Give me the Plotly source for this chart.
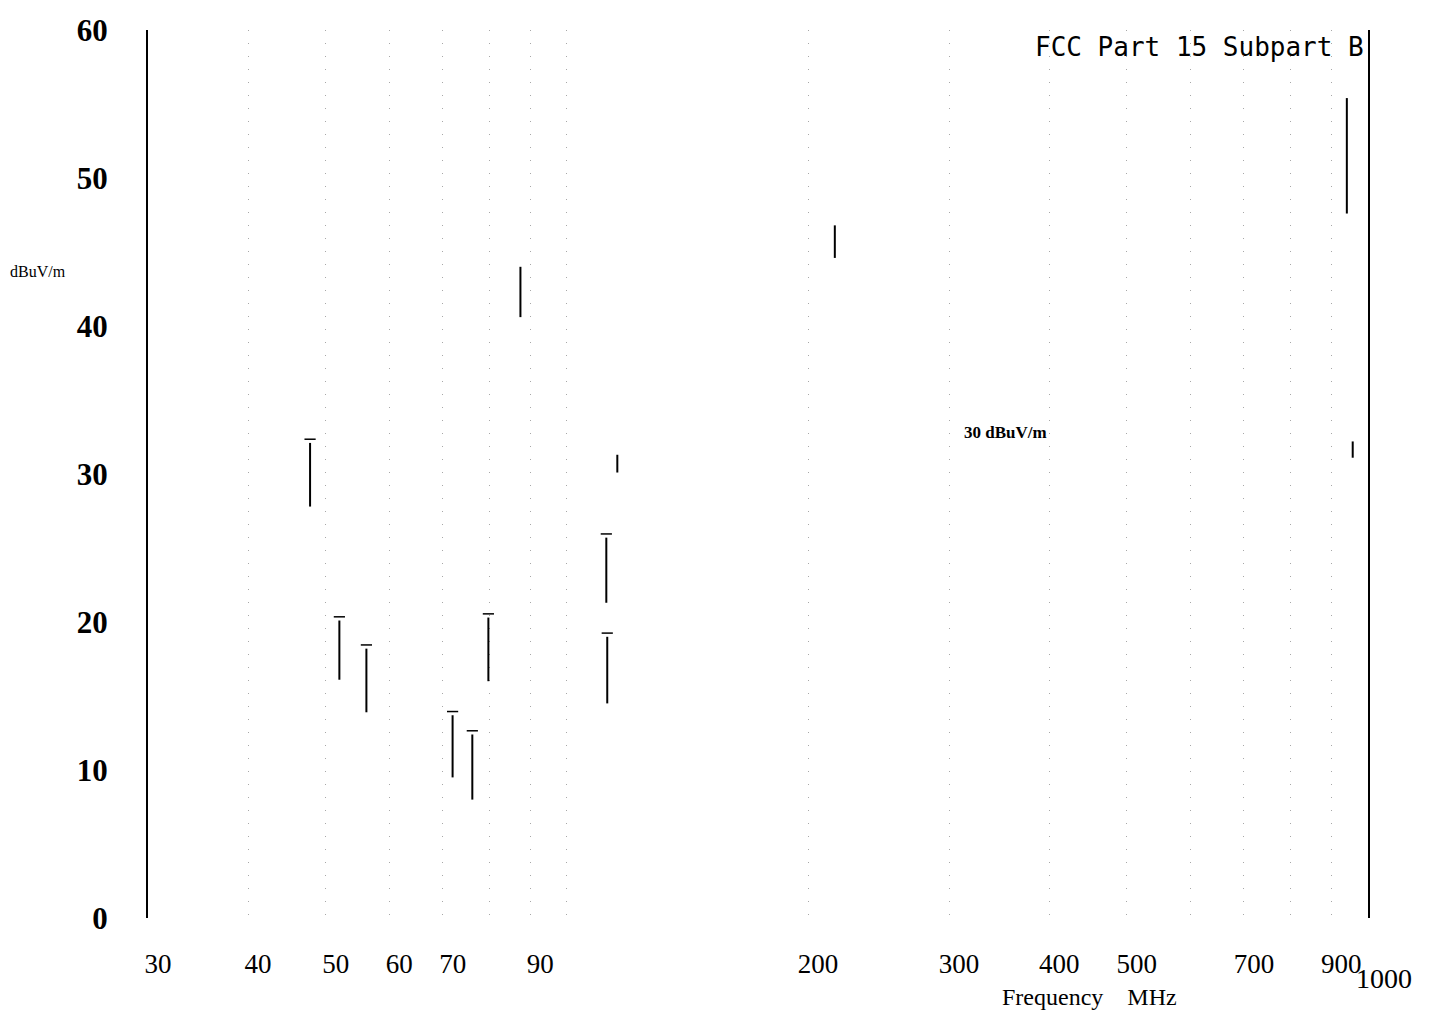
import math
import plotly.graph_objects as go

# Peak readings with a small cap at the top (MHz, dBuV/m)
capped_freq = [47.8, 52.0, 56.2, 72.0, 76.2, 79.8, 112.0, 112.3]
capped_top = [32.1, 20.1, 18.2, 13.7, 12.4, 20.3, 25.7, 19.0]
capped_bottom = [27.8, 16.1, 13.9, 9.5, 8.0, 16.0, 21.3, 14.5]

# Readings drawn without a cap
plain_freq = [87.5, 115.6, 216.0, 941.0, 957.0]
plain_top = [44.0, 31.3, 46.8, 55.4, 32.2]
plain_bottom = [40.6, 30.1, 44.6, 47.6, 31.1]

x_tick_vals = [30, 40, 50, 60, 70, 90, 200, 300, 400, 500, 700, 900, 1000]
x_tick_text = ["30", "40", "50", "60", "70", "90", "200", "300", "400", "500",
               "700", "900", ""]
last_tick_label = "1000"
grid_freqs = [40, 50, 60, 70, 80, 90, 100, 200, 300, 400, 500, 600, 700, 800, 900]
y_tick_vals = [0, 10, 20, 30, 40, 50, 60]


def segs(freqs, tops, bottoms):
    xs, ys = [], []
    for f, t, b in zip(freqs, tops, bottoms):
        xs += [f, f, None]
        ys += [b, t, None]
    return xs, ys


fig = go.Figure()
cx, cy = segs(capped_freq, capped_top, capped_bottom)
px_, py_ = segs(plain_freq, plain_top, plain_bottom)
fig.add_trace(go.Scatter(x=cx, y=cy, mode="lines",
                         line=dict(color="black", width=2), showlegend=False))
fig.add_trace(go.Scatter(x=px_, y=py_, mode="lines",
                         line=dict(color="black", width=2), showlegend=False))
fig.add_trace(go.Scatter(x=capped_freq, y=[t + 0.25 for t in capped_top], mode="markers",
                         marker=dict(symbol="line-ew", size=8,
                                     line=dict(color="black", width=1.5)),
                         showlegend=False))

serif = "Liberation Serif"
fig.update_layout(
    width=1429, height=1015,
    margin=dict(l=140, r=69, t=22, b=105),
    paper_bgcolor="white", plot_bgcolor="white",
    xaxis=dict(type="log", range=[math.log10(30), 3], automargin=False,
               tickmode="array", tickvals=x_tick_vals, ticktext=x_tick_text,
               tickangle=0, ticklabelshift=10,
               showgrid=False, showline=False, zeroline=False, ticks="",
               ticklabelstandoff=27,
               tickfont=dict(family=serif, size=27, color="black"),
               minor=dict(tickmode="array", tickvals=grid_freqs, showgrid=True,
                          gridcolor="#a8a8a8", gridwidth=1, griddash="1px,12px",
                          ticks="")),
    yaxis=dict(range=[0, 60], tickmode="array", tickvals=y_tick_vals,
               automargin=False,
               showgrid=False, zeroline=False, showline=True, mirror=True,
               linecolor="black", linewidth=2, ticks="",
               ticklabelstandoff=32,
               tickfont=dict(family=serif, size=31, color="black", weight="bold")),
    annotations=[
        dict(text=last_tick_label, xref="x", yref="paper",
             x=3, y=-0.068, xanchor="left", yanchor="middle", showarrow=False,
             xshift=-14,
             font=dict(family=serif, size=28, color="black")),
        dict(text="FCC Part 15 Subpart B", xref="paper", yref="paper",
             x=0.998, y=0.981, xanchor="right", yanchor="middle", showarrow=False,
             font=dict(family="DejaVu Sans Mono", size=26, color="black")),
        dict(text="dBuV/m", xref="paper", yref="paper",
             x=-0.1148, y=0.7275, xanchor="left", yanchor="middle", showarrow=False,
             font=dict(family=serif, size=16, color="black")),
        dict(text="30 dBuV/m", xref="paper", yref="paper",
             x=0.667, y=0.547, xanchor="left", yanchor="middle", showarrow=False,
             font=dict(family=serif, size=17, color="black", weight="bold")),
        dict(text="Frequency\u00a0\u00a0\u00a0\u00a0MHz", xref="paper", yref="paper",
             x=0.698, y=-0.089, xanchor="left", yanchor="middle", showarrow=False,
             font=dict(family=serif, size=24, color="black")),
    ],
)

fig.write_html("out.html")
